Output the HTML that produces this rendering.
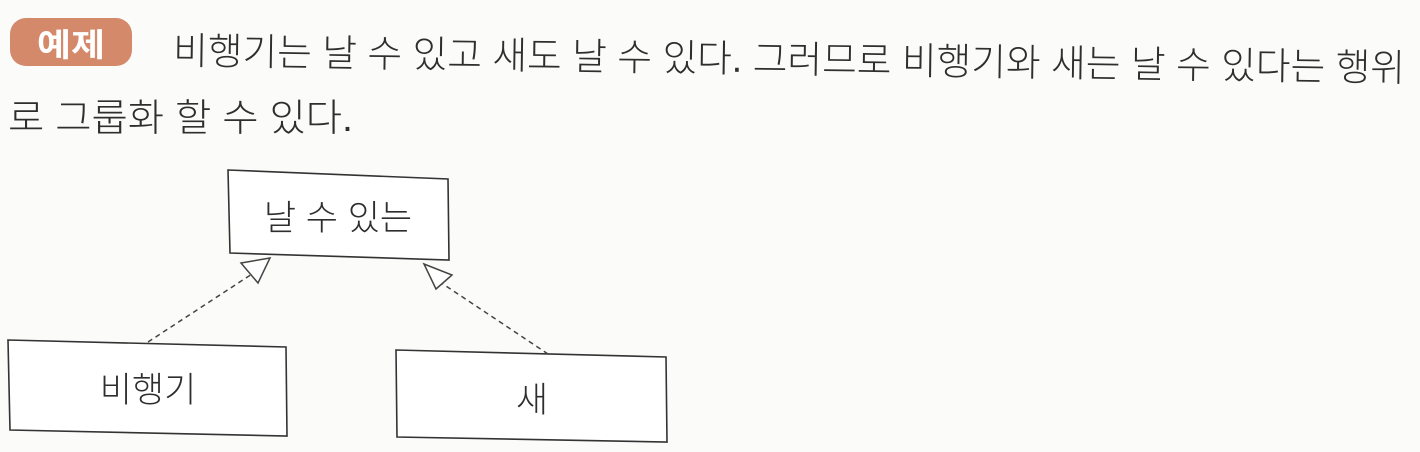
<!DOCTYPE html>
<html><head><meta charset="utf-8"><style>
html,body{margin:0;padding:0;background:#fbfbfa;}
svg{display:block;}
text{font-family:"Liberation Sans","Noto Sans CJK KR","NanumGothic",sans-serif;fill:#2e2e2e;font-weight:300;}
</style></head><body>
<svg width="1420" height="452" viewBox="0 0 1420 452" xmlns="http://www.w3.org/2000/svg">
<rect width="1420" height="452" fill="#fbfbfa"/>
<rect x="10" y="18" width="122" height="48" rx="16" fill="#d4896a"/>
<text x="71" y="56" text-anchor="middle" font-size="32" style="fill:#fff;font-weight:bold" textLength="68" lengthAdjust="spacingAndGlyphs">예제</text>
<g transform="rotate(0.8 173 62)">
<text x="173" y="64" font-size="38" textLength="1232" lengthAdjust="spacingAndGlyphs">비행기는 날 수 있고 새도 날 수 있다. 그러므로 비행기와 새는 날 수 있다는 행위</text>
</g>
<text x="8" y="131" font-size="38" textLength="345" lengthAdjust="spacingAndGlyphs">로 그룹화 할 수 있다.</text>
<g fill="#fff" stroke="#333" stroke-width="1.6">
<polygon points="228,170 448,179 449,260 230,253"/>
<polygon points="8,340 286,347 287,436 10,430"/>
<polygon points="396,350 666,357 667,442 397,437"/>
</g>
<text x="338" y="230" text-anchor="middle" font-size="35">날 수 있는</text>
<text x="148" y="402" text-anchor="middle" font-size="35">비행기</text>
<text x="532" y="412" text-anchor="middle" font-size="35">새</text>
<g stroke="#444" stroke-width="1.5" fill="none">
<line x1="148" y1="342" x2="252" y2="274" stroke-dasharray="5,4"/>
<line x1="548" y1="354" x2="440" y2="282" stroke-dasharray="5,4"/>
<polygon points="241,263 270,258 258,283" fill="#fff"/>
<polygon points="424,264 452,275 436,289" fill="#fff"/>
</g>
</svg>
</body></html>
